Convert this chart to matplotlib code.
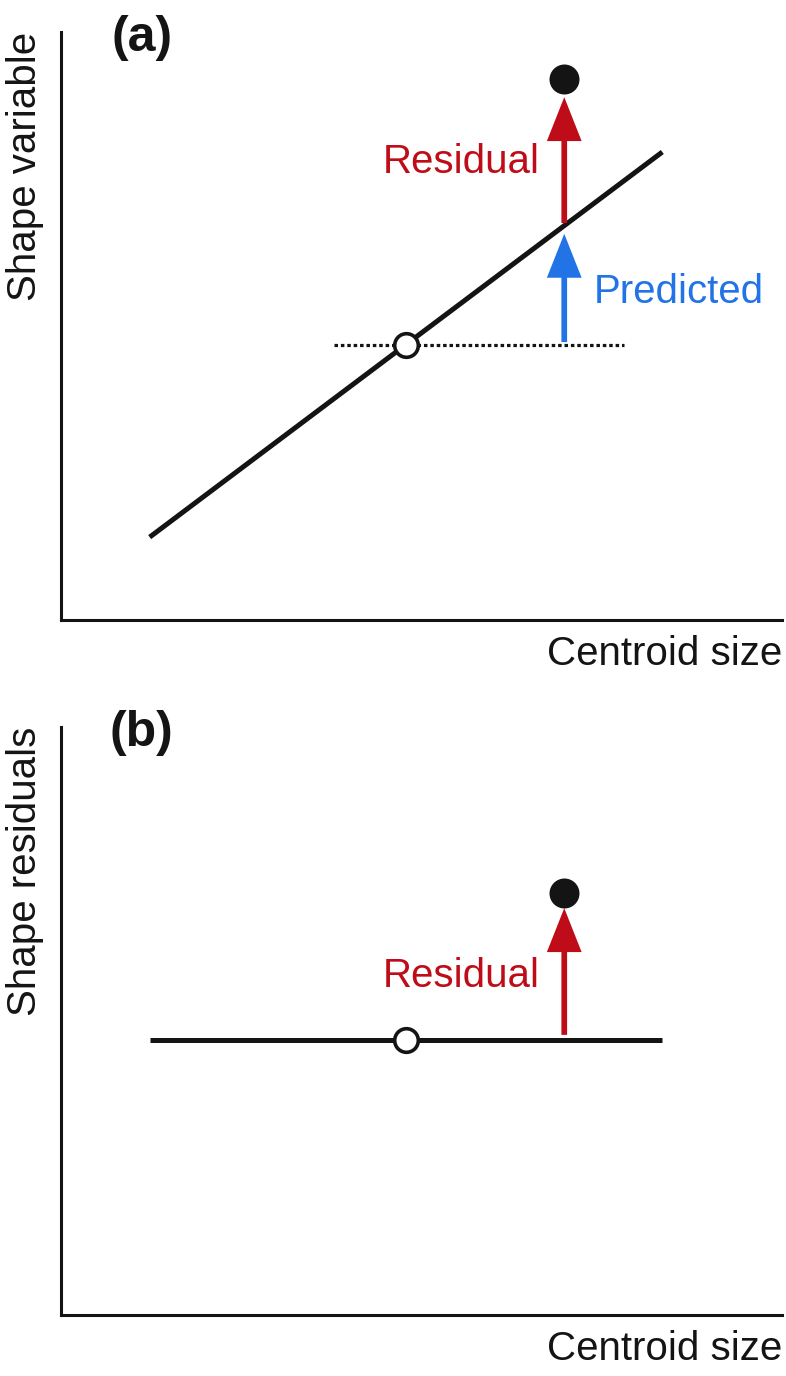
import matplotlib
matplotlib.use('Agg')
import matplotlib.pyplot as plt

plt.rcParams['font.family'] = ['Liberation Sans', 'DejaVu Sans']

# Panel (a): shape variable against centroid size
size_ends = [1.23, 8.34]
shape_fit = [1.41, 7.96]
mean_size = 4.79
mean_shape = 4.68
ref_ends = [3.79, 7.81]      # extent of the dotted mean line
obs_size = 6.98
obs_shape = 9.20
pred_shape = 6.71

# Panel (b): shape residuals against centroid size
resid_zero = [4.68, 4.68]
obs_resid = 7.18

black = '#141414'
red = '#BE0D18'
blue = '#2173E6'


def arrow(ax, x, y0, y1, color, shrink_a, shrink_b):
    ax.annotate('', xy=(x, y1), xytext=(x, y0),
                arrowprops=dict(arrowstyle='-|>,head_length=24,head_width=9.5',
                                mutation_scale=1, color=color, lw=4.1,
                                joinstyle='miter', capstyle='butt',
                                shrinkA=shrink_a, shrinkB=shrink_b))


def setup(ax, ylabel, tag):
    ax.set_xlim(0, 10)
    ax.set_ylim(0, 10)
    for side in ['top', 'right']:
        ax.spines[side].set_visible(False)
    for side in ['left', 'bottom']:
        ax.spines[side].set_linewidth(2.2)
        ax.spines[side].set_color(black)
    ax.set_xticks([])
    ax.set_yticks([])
    ax.set_xlabel('Centroid size', loc='right', fontsize=29, labelpad=11, color=black)
    ax.set_ylabel(ylabel, loc='top', fontsize=29, labelpad=12.5, color=black)
    ax.text(0.112, 0.99, tag, transform=ax.transAxes, fontsize=36,
            fontweight='bold', ha='center', va='center', color=black)


fig = plt.figure(figsize=(7.86, 13.76), dpi=100)

# (a)
ax = fig.add_axes([0.0776, 0.5494, 0.9173, 0.4273])
setup(ax, 'Shape variable', '(a)')
ax.plot(ref_ends, [mean_shape, mean_shape], color=black, lw=2.3,
        dashes=(1.1, 0.9), zorder=1)
ax.plot(size_ends, shape_fit, color=black, lw=3.6, solid_capstyle='butt', zorder=2)
arrow(ax, obs_size, mean_shape, pred_shape, blue, 2, 6)
arrow(ax, obs_size, pred_shape, obs_shape, red, 1.8, 13)
ax.plot(mean_size, mean_shape, 'o', ms=17, mfc='white', mec=black, mew=2.6, zorder=4)
ax.plot(obs_size, obs_shape, 'o', ms=21.6, mfc=black, mec=black, mew=0, zorder=4)
ax.text(6.64, 7.60, 'Residual', color=red, fontsize=29, ha='right', va='baseline')
ax.text(7.39, 5.39, 'Predicted', color=blue, fontsize=29, ha='left', va='baseline')

# (b)
ax = fig.add_axes([0.0776, 0.0443, 0.9173, 0.4273])
setup(ax, 'Shape residuals', '(b)')
ax.plot(size_ends, resid_zero, color=black, lw=3.6, solid_capstyle='butt', zorder=2)
arrow(ax, obs_size, resid_zero[0], obs_resid, red, 3.6, 11)
ax.plot(mean_size, resid_zero[0], 'o', ms=17, mfc='white', mec=black, mew=2.6, zorder=4)
ax.plot(obs_size, obs_resid, 'o', ms=21.6, mfc=black, mec=black, mew=0, zorder=4)
ax.text(6.64, 5.58, 'Residual', color=red, fontsize=29, ha='right', va='baseline')

fig.savefig('out.png', dpi=100)
